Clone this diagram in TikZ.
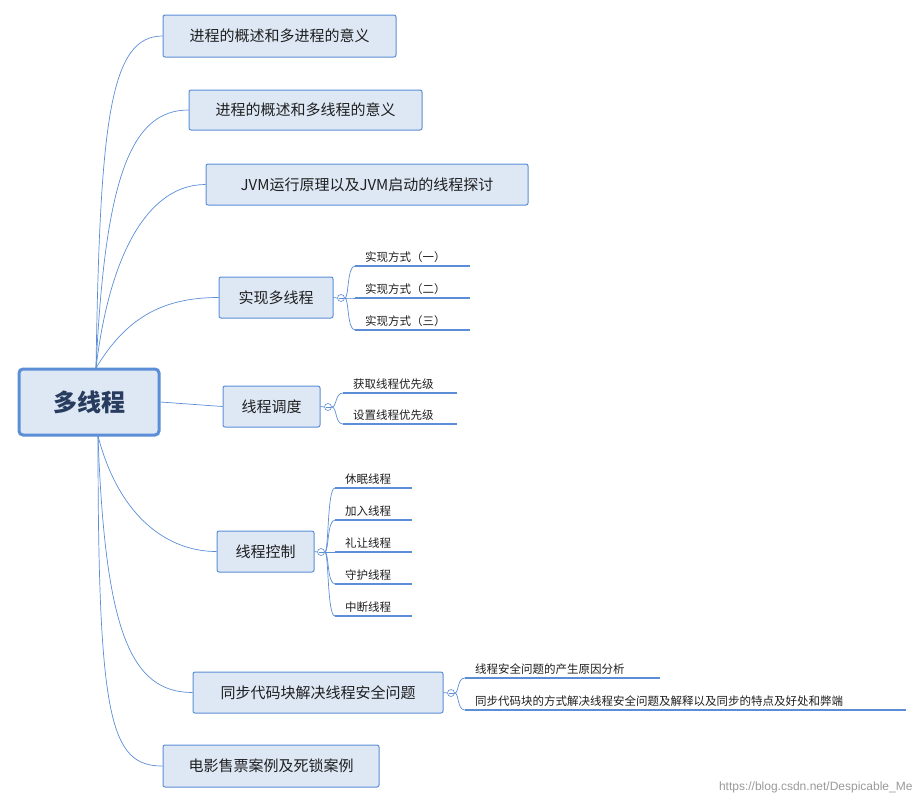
\documentclass[tikz,border=0pt]{standalone}
\usepackage{fontspec}
\setmainfont{Noto Sans CJK SC}
\begin{document}
\begin{tikzpicture}[x=1pt,y=-1pt]
\definecolor{ln}{HTML}{5B8ED6}
\definecolor{fl}{HTML}{DEE8F5}
\definecolor{tx}{HTML}{1F1F1F}
\tikzset{
 box/.style={draw=ln,fill=fl,rounded corners=2pt,line width=1pt,inner sep=0pt,font=\fontsize{15}{15}\selectfont,text=tx},
 rootbox/.style={draw=ln,fill=fl,rounded corners=4pt,line width=3pt,font=\fontsize{24}{24}\selectfont\bfseries,text={rgb,255:red,40;green,60;blue,95}},
 con/.style={draw=ln,line width=0.7pt},
 ul/.style={draw=ln,line width=1.6pt},
 sub/.style={font=\fontsize{11.5}{12}\selectfont,text=tx,anchor=south west,inner sep=2pt},
 knob/.style={circle,draw=ln,fill=white,inner sep=0pt,minimum size=7pt,line width=0.6pt}
}
\useasboundingbox (0,0) rectangle (923,804);
\node[rootbox,minimum width=140pt,minimum height=66pt] (root) at (89,402) {多线程};
\node[box,minimum width=233pt,minimum height=42pt] (n1) at (279.5,36) {进程的概述和多进程的意义};
\node[box,minimum width=233pt,minimum height=40pt] (n2) at (305.5,110) {进程的概述和多线程的意义};
\node[box,minimum width=322pt,minimum height=41pt] (n3) at (367,184.5) {JVM运行原理以及JVM启动的线程探讨};
\node[box,minimum width=114pt,minimum height=41pt] (n4) at (276,297.5) {实现多线程};
\node[box,minimum width=97pt,minimum height=41pt] (n5) at (271.5,406.5) {线程调度};
\node[box,minimum width=97pt,minimum height=41pt] (n6) at (265.5,551.5) {线程控制};
\node[box,minimum width=250pt,minimum height=41pt] (n7) at (318,692.5) {同步代码块解决线程安全问题};
\node[box,minimum width=216pt,minimum height=42pt] (n8) at (271,766) {电影售票案例及死锁案例};
\coordinate (rt) at (96,368);
\coordinate (rb) at (98,436);
\draw[con] (rt) .. controls (100,120) and (110,36) .. (n1.west);
\draw[con] (rt) .. controls (105,180) and (130,110) .. (n2.west);
\draw[con] (rt) .. controls (110,250) and (150,184.5) .. (n3.west);
\draw[con] (rt) .. controls (125,320) and (160,297.5) .. (n4.west);
\draw[con] (root.east) -- (n5.west);
\draw[con] (rb) .. controls (120,520) and (170,551.5) .. (n6.west);
\draw[con] (rb) .. controls (105,630) and (130,692.5) .. (n7.west);
\draw[con] (rb) .. controls (98,720) and (110,766) .. (n8.west);
% sub branches
\newcommand{\subs}[6]{% node, knobx, y, x1, x2, list of y:text
 \node[knob] (k#1) at (#2,#3) {};
 \draw[con] (#1.east) -- (k#1.west);
 \foreach \yy/\tt in {#6}{
  \draw[con] (k#1.east) .. controls (#4-6,#3) and (#4-8,\yy) .. (#4,\yy);
  \draw[ul] (#4,\yy) -- (#5,\yy);
  \node[sub] at (#4+8,\yy-1) {\tt};
 }
 \draw[line width=0.6pt,draw=ln] (#2-2.5,#3) -- (#2+2.5,#3);
}
\subs{n4}{341}{298}{355}{470}{266/实现方式（一）,298/实现方式（二）,330/实现方式（三）}
\subs{n5}{328}{407}{343}{457}{393/获取线程优先级,424/设置线程优先级}
\subs{n6}{321}{552}{335}{412}{488/休眠线程,520/加入线程,552/礼让线程,584/守护线程,616/中断线程}
\node[knob] (k7) at (451,693) {};
\draw[con] (n7.east) -- (k7.west);
\draw[line width=0.6pt,draw=ln] (448.5,693) -- (453.5,693);
\draw[con] (k7.east) .. controls (459,693) and (457,678) .. (465,678);
\draw[con] (k7.east) .. controls (459,693) and (457,710) .. (465,710);
\draw[ul] (465,678) -- (660,678);
\draw[ul] (465,710) -- (906,710);
\node[sub] at (473,677) {线程安全问题的产生原因分析};
\node[sub] at (473,709) {同步代码块的方式解决线程安全问题及解释以及同步的特点及好处和弊端};
\node[font=\fontsize{12}{12}\selectfont\fontspec{Liberation Sans},text=gray!80,anchor=east] (wm) at (916,787) {https://blog.csdn.net/Despicable\_Me};
\end{tikzpicture}
\end{document}
